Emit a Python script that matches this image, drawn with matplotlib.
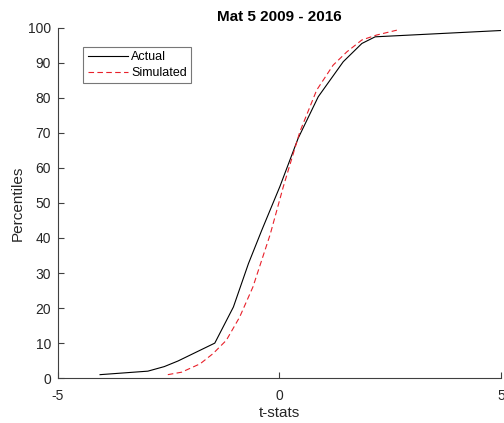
import numpy as np
import matplotlib.pyplot as plt

plt.rcParams['font.family'] = ['Liberation Sans', 'DejaVu Sans']
plt.rcParams['axes.unicode_minus'] = False

# empirical distribution of t-stats
actual_t = [-4.05, -2.97, -2.6, -2.29, -1.46, -1.04, -0.70, -0.40, 0.01, 0.42,
            0.875, 1.44, 1.86, 2.16, 5.0]
actual_pct = [1, 2, 3.3, 4.9, 10, 20.3, 32.7, 42.2, 54.7, 68.4,
              80.3, 90.3, 95.5, 97.4, 99.2]

# simulated distribution
sim_t = [-2.52, -2.21, -1.79, -1.5, -1.2, -0.9, -0.6, -0.21, 0.086, 0.46,
         0.84, 1.21, 1.52, 1.86, 2.19, 2.65]
sim_pct = [1, 1.7, 4.1, 7, 10.8, 17.4, 26, 41, 54.6, 70.3,
           82.2, 89.3, 93.1, 96.5, 97.9, 99.3]

fig = plt.figure(figsize=(5.04, 4.23), dpi=100)
ax = fig.add_axes([0.115, 0.106, 0.879, 0.8285])

ax.plot(actual_t, actual_pct, color='black', lw=0.8, label='Actual')
ax.plot(sim_t, sim_pct, color='#e8202a', lw=0.8, ls=(0, (5, 3)), label='Simulated')

ax.set_xlim(-5, 5)
ax.set_ylim(0, 100)
ax.set_xticks([-5, 0, 5])
ax.set_yticks(np.arange(0, 101, 10))

axcol = '#404040'
for side in ('top', 'right'):
    ax.spines[side].set_visible(False)
for side in ('left', 'bottom'):
    ax.spines[side].set_color(axcol)
    ax.spines[side].set_linewidth(0.8)
ax.tick_params(direction='in', length=4, width=0.8, color=axcol,
               labelcolor='#262626', labelsize=10)
ax.tick_params(axis='x', pad=8)
ax.tick_params(axis='y', pad=5)

ax.set_xlabel('t-stats', fontsize=11, color='#262626', labelpad=2)
ax.set_ylabel('Percentiles', fontsize=11, color='#262626', labelpad=2)
ax.set_title('Mat 5 2009 - 2016', fontsize=11, fontweight='bold', pad=5)

leg = ax.legend(loc='upper left', bbox_to_anchor=(0.057, 0.945), fontsize=9,
                frameon=True, fancybox=False, handlelength=3.2,
                borderpad=0.35, labelspacing=0.3, handletextpad=0.3,
                borderaxespad=0)
leg.get_frame().set_edgecolor('#555555')
leg.get_frame().set_linewidth(0.8)

fig.savefig('out.png', dpi=100)
